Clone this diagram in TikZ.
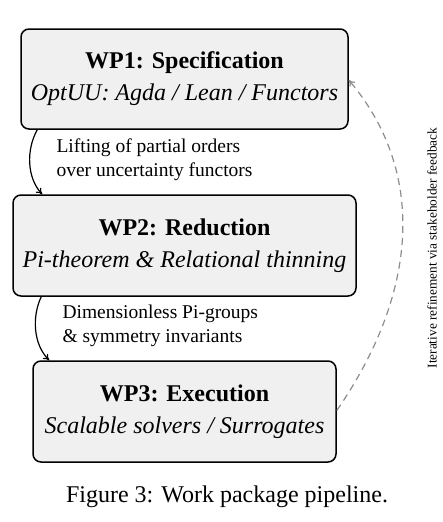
\documentclass[tikz,border=0pt]{standalone}
\usepackage{fontspec}
\setmainfont{Liberation Serif}
\usetikzlibrary{arrows.meta,calc}
\begin{document}
\begin{tikzpicture}[x=1pt,y=-1pt,
  wpbox/.style={draw=black,line width=1.5pt,rounded corners=8pt,fill=black!6,
    align=center,inner sep=0pt,font=\fontsize{24}{32}\selectfont},
  flow/.style={line width=1.2pt,-{To[length=6pt,width=7pt]}},
  lbl/.style={align=left,anchor=west,font=\fontsize{19.5}{24}\selectfont},
  fb/.style={draw=black!45,line width=1.2pt,dash pattern=on 7pt off 5pt,-{To[length=6pt,width=7pt]}}]
\useasboundingbox (0,0) rectangle (442,522);
\node[wpbox,minimum width=327pt,minimum height=100pt] (b1) at (184.5,79)
  {\textbf{WP1: Specification}\\\textit{OptUU: Agda / Lean / Functors}};
\node[wpbox,minimum width=343pt,minimum height=101pt] (b2) at (184.5,245.5)
  {\textbf{WP2: Reduction}\\\textit{Pi-theorem \& Relational thinning}};
\node[wpbox,minimum width=303pt,minimum height=101pt] (b3) at (184.5,411.5)
  {\textbf{WP3: Execution}\\\textit{Scalable solvers / Surrogates}};
\node[lbl] (l1) at (53,160) {Lifting of partial orders\\over uncertainty functors};
\node[lbl] (l2) at (59,326) {Dimensionless Pi-groups\\\& symmetry invariants};
\coordinate (a1s) at ($(b1.south west)+(17,0)$);
\coordinate (a1e) at ($(b2.north west)+(30,0)$);
\coordinate (a2s) at ($(b2.south west)+(29,0)$);
\coordinate (a2e) at ($(b3.north west)+(17,0)$);
\draw[flow] (a1s) .. controls (26,150) and (27,178) .. (a1e);
\draw[flow] (a2s) .. controls (32,316) and (33,344) .. (a2e);
\coordinate (f1) at ($(b3.east)+(0,-1)$);
\coordinate (f2) at ($(b1.east)+(0,1)$);
\draw[fb] (f1) .. controls (420,290) and (425,170) .. (f2);
\node[rotate=90,font=\fontsize{13.3}{16}\selectfont] (fbl) at (432,248)
  {Iterative refinement via stakeholder feedback};
\node[font=\fontsize{24}{28}\selectfont] (cap) at (227,497) {Figure 3: Work package pipeline.};
\end{tikzpicture}
\end{document}
